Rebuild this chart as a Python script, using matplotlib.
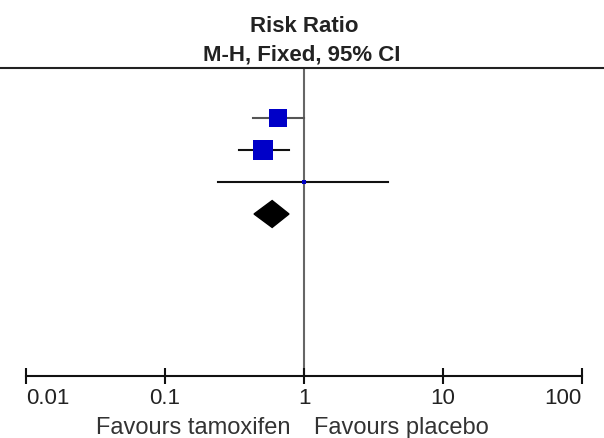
import matplotlib.pyplot as plt
from matplotlib.lines import Line2D
from matplotlib.patches import Polygon

plt.rcParams['font.family'] = ['Liberation Sans', 'DejaVu Sans']

# Studies: risk ratio with 95% CI
rr = [0.65, 0.51, 1.0]
ci_lo = [0.43, 0.34, 0.24]
ci_hi = [1.0, 0.78, 4.02]
box_size = [13, 14.5, 3]  # marker size in points (weight)

# Pooled estimate (diamond)
pooled_rr = 0.59
pooled_lo = 0.437
pooled_hi = 0.78

tick_vals = [0.01, 0.1, 1, 10, 100]
tick_labels = ['0.01', '0.1', '1', '10', '100']

W, H = 604, 438
fig = plt.figure(figsize=(W / 100, H / 100), dpi=100)

# axes from x px 26..582, y px 68..376
ax = fig.add_axes([26 / W, (H - 376) / H, 556 / W, 308 / H])
ax.set_xscale('log')
ax.set_xlim(0.01, 100)
ax.set_ylim(8.0625, -1.5625)

txt = '#222222'

# vertical line of no effect
ax.axvline(1, color='#666666', lw=1.5, zorder=1)

for i in range(len(rr)):
    col = '#555555' if i == 0 else '#111111'
    ax.plot([ci_lo[i], ci_hi[i]], [i, i], color=col, lw=1.5, zorder=2)
    ax.plot(rr[i], i, marker='s', ms=box_size[i], color='#0000C8',
            mec='#0000C8', mew=0, zorder=3)

row = len(rr)
dh = 0.42
ax.add_patch(Polygon([(pooled_lo, row), (pooled_rr, row - dh),
                      (pooled_hi, row), (pooled_rr, row + dh)],
                     closed=True, color='black', zorder=3))

# bottom axis
for s in ['top', 'left', 'right']:
    ax.spines[s].set_visible(False)
ax.spines['bottom'].set_linewidth(1.5)
ax.spines['bottom'].set_color('#111111')
ax.set_yticks([])
ax.set_xticks(tick_vals)
ax.set_xticklabels(tick_labels)
ax.minorticks_off()
ax.tick_params(axis='x', direction='inout', length=11.5, width=1.5,
               color='#111111', labelsize=16, labelcolor=txt, pad=3)
labs = ax.get_xticklabels()
labs[0].set_ha('left')
labs[-1].set_ha('right')

# top rule across the whole width
fig.add_artist(Line2D([0, 1], [(H - 68) / H, (H - 68) / H],
                      transform=fig.transFigure, color='#222222', lw=1.5))

# header
fig.text(304 / W, 1 - 32 / H, 'Risk Ratio', ha='center', va='baseline',
         fontsize=16, fontweight='bold', color=txt)
fig.text(302 / W, 1 - 60 / H, 'M-H, Fixed, 95% CI', ha='center', va='baseline',
         fontsize=16, fontweight='bold', color=txt)

# favours labels
fig.text(290 / W, 1 - 434 / H, 'Favours tamoxifen', ha='right', va='baseline',
         fontsize=17, color='#333333')
fig.text(314 / W, 1 - 434 / H, 'Favours placebo', ha='left', va='baseline',
         fontsize=17, color='#333333')

fig.savefig('out.png', dpi=100)
